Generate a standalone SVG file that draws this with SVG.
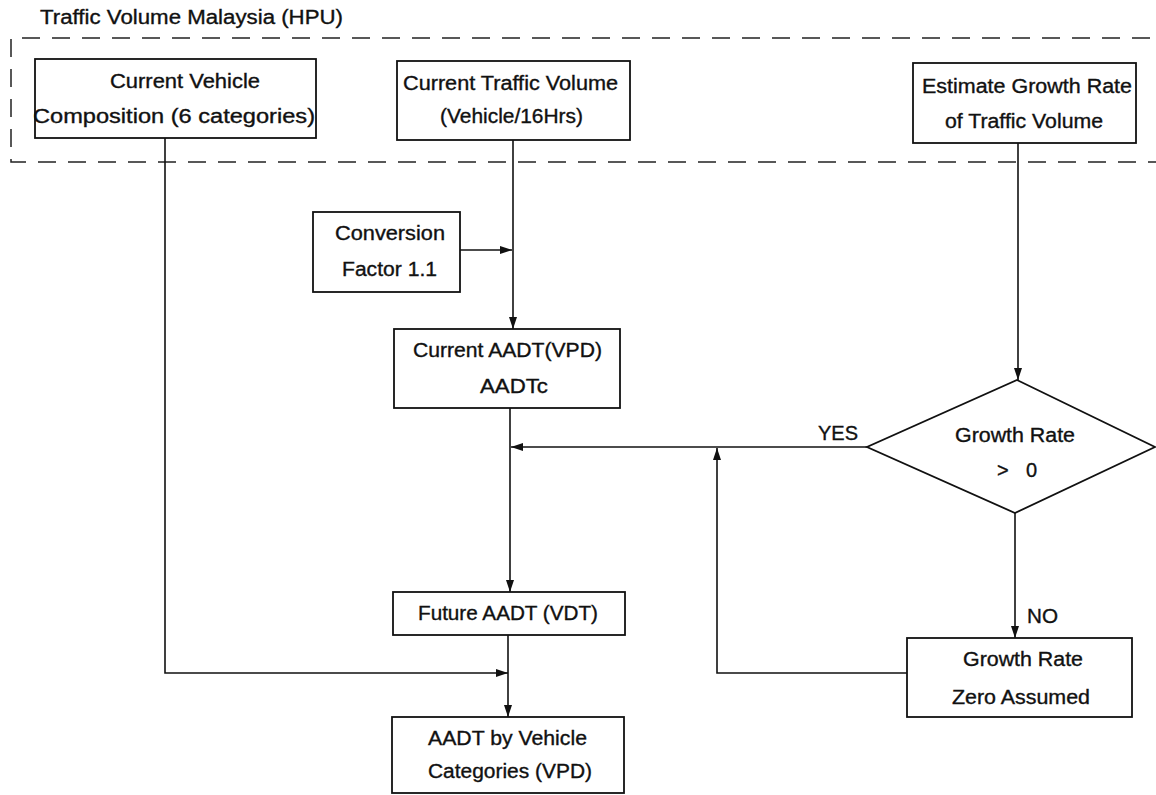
<svg xmlns="http://www.w3.org/2000/svg" width="1156" height="795" viewBox="0 0 1156 795">
<style>
.t{font-family:"Liberation Sans",Arial,sans-serif;font-size:20px;fill:#111;stroke:#111;stroke-width:0.35;}
.box{fill:#fff;stroke:#111;stroke-width:1.8;}
.c{fill:none;stroke:#111;stroke-width:1.6;}
.d{fill:none;stroke:#222;stroke-width:1.5;stroke-dasharray:18 12;}
</style>
<defs>
<marker id="ah" viewBox="0 0 12 8" refX="12" refY="4" markerWidth="12" markerHeight="8" markerUnits="userSpaceOnUse" orient="auto">
<path d="M0,0 L12,4 L0,8 Z" fill="#111"/>
</marker>
</defs>
<rect width="1156" height="795" fill="#fff"/>
<g id="group-hpu">
<text class="t" x="40" y="24" textLength="303" lengthAdjust="spacingAndGlyphs">Traffic Volume Malaysia (HPU)</text>
<path class="d" d="M1150,38 L11,38 L11,162 L1156,162"/>
</g>
<g id="connectors">
<path class="c" d="M165,138 L165,673 L508,673" marker-end="url(#ah)"/>
<path class="c" d="M513,140 L513,329" marker-end="url(#ah)"/>
<path class="c" d="M460,250 L512,250" marker-end="url(#ah)"/>
<path class="c" d="M510,408 L510,592" marker-end="url(#ah)"/>
<path class="c" d="M867,447 L511,447" marker-end="url(#ah)"/>
<path class="c" d="M907,673 L717,673 L717,448" marker-end="url(#ah)"/>
<path class="c" d="M1018,143 L1018,380" marker-end="url(#ah)"/>
<path class="c" d="M1015,513 L1015,638" marker-end="url(#ah)"/>
<path class="c" d="M508,635 L508,717" marker-end="url(#ah)"/>
<text class="t" x="818" y="440" textLength="40" lengthAdjust="spacingAndGlyphs">YES</text>
<text class="t" x="1027" y="623" textLength="31" lengthAdjust="spacingAndGlyphs">NO</text>
</g>
<g id="node-composition">
<rect class="box" x="35" y="59" width="281" height="79"/>
<text class="t" x="110" y="88" textLength="150" lengthAdjust="spacingAndGlyphs">Current Vehicle</text>
<text class="t" x="33" y="123" textLength="282" lengthAdjust="spacingAndGlyphs">Composition (6 categories)</text>
</g>
<g id="node-volume">
<rect class="box" x="397" y="61" width="233" height="79"/>
<text class="t" x="403" y="90" textLength="215" lengthAdjust="spacingAndGlyphs">Current Traffic Volume</text>
<text class="t" x="440" y="123" textLength="143" lengthAdjust="spacingAndGlyphs">(Vehicle/16Hrs)</text>
</g>
<g id="node-growth-estimate">
<rect class="box" x="913" y="63" width="223" height="80"/>
<text class="t" x="922" y="93" textLength="210" lengthAdjust="spacingAndGlyphs">Estimate Growth Rate</text>
<text class="t" x="945" y="128" textLength="158" lengthAdjust="spacingAndGlyphs">of Traffic Volume</text>
</g>
<g id="node-conversion">
<rect class="box" x="313" y="212" width="147" height="80"/>
<text class="t" x="335" y="240" textLength="110" lengthAdjust="spacingAndGlyphs">Conversion</text>
<text class="t" x="342" y="276" textLength="95" lengthAdjust="spacingAndGlyphs">Factor 1.1</text>
</g>
<g id="node-current-aadt">
<rect class="box" x="394" y="329" width="226" height="79"/>
<text class="t" x="413" y="357" textLength="189" lengthAdjust="spacingAndGlyphs">Current AADT(VPD)</text>
<text class="t" x="480" y="393" textLength="68" lengthAdjust="spacingAndGlyphs">AADTc</text>
</g>
<g id="node-decision">
<path class="box" d="M1017,380 L1155,447 L1015,513 L867,447 Z"/>
<text class="t" x="955" y="442" textLength="120" lengthAdjust="spacingAndGlyphs">Growth Rate</text>
<text class="t" x="997" y="477" textLength="40" lengthAdjust="spacing">&gt; 0</text>
</g>
<g id="node-zero">
<rect class="box" x="907" y="638" width="225" height="79"/>
<text class="t" x="963" y="666" textLength="120" lengthAdjust="spacingAndGlyphs">Growth Rate</text>
<text class="t" x="952" y="704" textLength="138" lengthAdjust="spacingAndGlyphs">Zero Assumed</text>
</g>
<g id="node-future">
<rect class="box" x="393" y="592" width="232" height="43"/>
<text class="t" x="418" y="620" textLength="180" lengthAdjust="spacingAndGlyphs">Future AADT (VDT)</text>
</g>
<g id="node-categories">
<rect class="box" x="392" y="717" width="232" height="76"/>
<text class="t" x="428" y="745" textLength="159" lengthAdjust="spacingAndGlyphs">AADT by Vehicle</text>
<text class="t" x="428" y="778" textLength="164" lengthAdjust="spacingAndGlyphs">Categories (VPD)</text>
</g>
</svg>
